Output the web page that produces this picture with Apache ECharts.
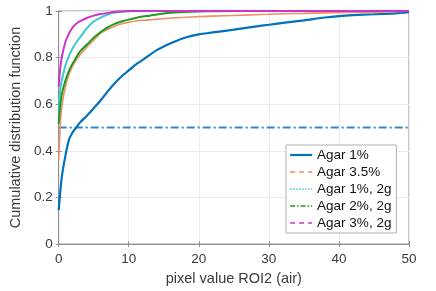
<!DOCTYPE html>
<html><head><meta charset="utf-8">
<script src="https://cdn.jsdelivr.net/npm/echarts@6/dist/echarts.min.js"></script>
<style>html,body{margin:0;padding:0;background:#fff}#c{width:436px;height:291px}</style>
</head><body><div id="c"></div>
<script>
var xs = [0, 0.25, 0.5, 1, 1.5, 2, 2.5, 3, 4, 5, 6, 7, 8, 9, 10, 11, 12, 13, 14, 15, 16, 18, 20, 22, 25, 28, 30, 32, 35, 38, 40, 42, 45, 48, 50];
var agar1 = [0.146, 0.23, 0.30, 0.385, 0.45, 0.48, 0.50, 0.52, 0.55, 0.583, 0.617, 0.655, 0.69, 0.72, 0.745, 0.77, 0.79, 0.812, 0.832, 0.848, 0.862, 0.885, 0.9, 0.908, 0.92, 0.933, 0.941, 0.949, 0.96, 0.972, 0.978, 0.982, 0.986, 0.99, 0.995];
var agar35 = [0.363, 0.52, 0.6, 0.68, 0.73, 0.765, 0.79, 0.81, 0.845, 0.875, 0.905, 0.922, 0.935, 0.945, 0.952, 0.957, 0.96, 0.962, 0.965, 0.967, 0.97, 0.973, 0.976, 0.978, 0.981, 0.984, 0.986, 0.988, 0.99, 0.992, 0.993, 0.994, 0.995, 0.997, 1.0];
var agar1_2g = [0.57, 0.67, 0.71, 0.77, 0.81, 0.84, 0.865, 0.885, 0.925, 0.955, 0.972, 0.985, 0.993, 0.997, 0.999, 1, 1, 1, 1, 1, 1, 1, 1, 1, 1, 1, 1, 1, 1, 1, 1, 1, 1, 1, 1];
var agar2_2g = [0.516, 0.6, 0.65, 0.705, 0.745, 0.775, 0.80, 0.825, 0.855, 0.885, 0.91, 0.93, 0.945, 0.955, 0.963, 0.97, 0.976, 0.98, 0.985, 0.989, 0.992, 0.996, 0.998, 0.999, 1, 1, 1, 1, 1, 1, 1, 1, 1, 1, 1];
var agar3_2g = [0.676, 0.76, 0.81, 0.87, 0.905, 0.93, 0.945, 0.955, 0.97, 0.98, 0.987, 0.992, 0.996, 0.998, 1, 1, 1, 1, 1, 1, 1, 1, 1, 1, 1, 1, 1, 1, 1, 1, 1, 1, 1, 1, 1];
var refLineX = [0, 50];
var refLineY = [0.5, 0.5];
var names = ['Agar 1%', 'Agar 3.5%', 'Agar 1%, 2g', 'Agar 2%, 2g', 'Agar 3%, 2g'];
var xTicks = [0, 10, 20, 30, 40, 50];
var yTicks = [0, 0.2, 0.4, 0.6, 0.8, 1];

function pairs(x, y) { return x.map(function (v, i) { return [v, y[i]]; }); }

var colors = ['#0072BD', '#EE8F66', '#3CC8D0', '#1E9A1E', '#CC33CC'];
var legendTypes = ['solid', [5, 4], [1.5, 1.5], [5, 2, 1.5, 2], [5, 4]];
var seriesData = [agar1, agar35, agar1_2g, agar2_2g, agar3_2g];
var widths = [2.2, 1.6, 2, 2, 2];

var chart = echarts.init(document.getElementById('c'), null, {renderer: 'canvas'});
var series = [];
series.push({
  type: 'line', name: 'ref', data: pairs(refLineX, refLineY), symbol: 'none', silent: true,
  lineStyle: {color: '#2E86D1', width: 2, type: [8, 3, 2, 3]}, z: 1
});
var order = [1, 0, 3, 2, 4];
order.forEach(function (i) {
  series.push({
    type: 'line', name: names[i], data: pairs(xs, seriesData[i]), symbol: 'none', smooth: 0.3,
    lineStyle: {color: colors[i], width: widths[i]}, itemStyle: {color: colors[i]}, z: 2 + i
  });
});

var axisFont = {fontFamily: 'Liberation Sans', fontSize: 13.5, color: '#3a3a3a'};
chart.setOption({
  animation: false,
  grid: {left: 57, right: 27, top: 11, bottom: 41, show: true, borderColor: '#8f8f8f', borderWidth: 1},
  xAxis: [{
    type: 'value', min: 0, max: 50, interval: 10, position: 'bottom',
    name: 'pixel value ROI2 (air)', nameLocation: 'middle', nameGap: 21,
    nameTextStyle: {fontFamily: 'Liberation Sans', fontSize: 14.5, color: '#3a3a3a'},
    axisLine: {show: true, lineStyle: {color: '#8f8f8f'}},
    axisTick: {show: true, inside: true, length: 3, lineStyle: {color: '#8f8f8f'}},
    axisLabel: Object.assign({margin: 8, formatter: function (v) { return xTicks.indexOf(v) >= 0 ? String(v) : ''; }}, axisFont),
    splitLine: {show: true, lineStyle: {color: '#ebebeb', width: 1}}
  }, {
    type: 'value', min: 0, max: 50, interval: 10, position: 'top',
    axisLine: {show: true, lineStyle: {color: '#8f8f8f'}},
    axisTick: {show: true, inside: true, length: 3, lineStyle: {color: '#8f8f8f'}},
    axisLabel: {show: false}, splitLine: {show: false}
  }],
  yAxis: [{
    type: 'value', min: 0, max: 1, interval: 0.2, position: 'left',
    name: 'Cumulative distribution function', nameLocation: 'middle', nameGap: 25,
    nameTextStyle: {fontFamily: 'Liberation Sans', fontSize: 14.5, color: '#3a3a3a'},
    axisLine: {show: true, lineStyle: {color: '#8f8f8f'}},
    axisTick: {show: true, inside: true, length: 3, lineStyle: {color: '#8f8f8f'}},
    axisLabel: Object.assign({margin: 6, formatter: function (v) { return String(Math.round(v * 10) / 10); }}, axisFont),
    splitLine: {show: true, lineStyle: {color: '#ebebeb', width: 1}}
  }, {
    type: 'value', min: 0, max: 1, interval: 0.2, position: 'right',
    axisLine: {show: true, lineStyle: {color: '#8f8f8f'}},
    axisTick: {show: true, inside: true, length: 3, lineStyle: {color: '#8f8f8f'}},
    axisLabel: {show: false}, splitLine: {show: false}
  }],
  legend: {
    show: true, orient: 'vertical', left: 286, top: 145,
    backgroundColor: '#ffffff', borderColor: '#b0b0b0', borderWidth: 1,
    padding: [3, 5, 3, 3], itemGap: 3, itemWidth: 22, itemHeight: 12,
    textStyle: {fontFamily: 'Liberation Sans', fontSize: 13.5, color: '#111'},
    data: names.map(function (n, i) {
      return {name: n,
        itemStyle: {color: 'rgba(0,0,0,0)', borderWidth: 0, opacity: 0},
        lineStyle: {color: colors[i], width: i === 0 ? 2.2 : 1.6, type: legendTypes[i]}};
    })
  },
  series: series
});
</script></body></html>
